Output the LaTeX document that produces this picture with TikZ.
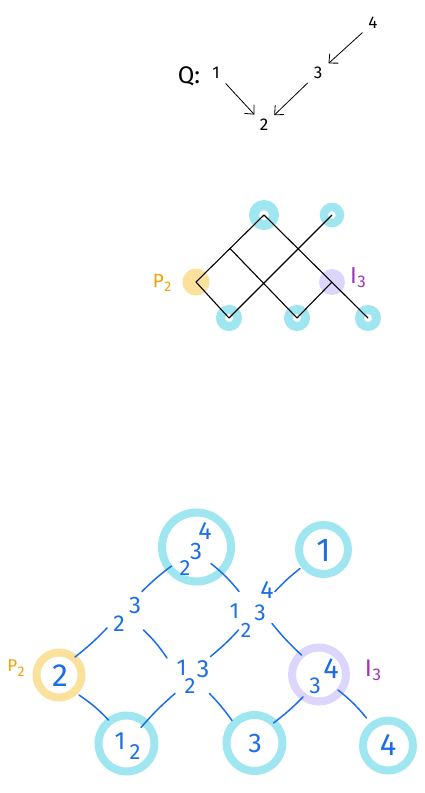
\documentclass[tikz,border=0pt]{standalone}
\usepackage{fontspec}
\setmainfont{Fira Sans}
\usetikzlibrary{arrows.meta}

\definecolor{ringcyan}{RGB}{160,230,240}
\definecolor{ringyellow}{RGB}{250,226,156}
\definecolor{ringlav}{RGB}{221,214,252}
\definecolor{inkblue}{RGB}{28,110,232}
\definecolor{inkorange}{RGB}{245,159,0}
\definecolor{inkpurple}{RGB}{156,54,181}

% letter with a lowered index: #1 letter, #2 index, #3 index size, #4 drop
\newcommand{\idxlabel}[4]{#1\kern0.5pt\raisebox{-#4}{\fontsize{#3}{#3}\selectfont #2}}

\tikzset{
  lbl/.style={inner sep=0pt, font=\fontsize{#1}{#1}\selectfont},
  num/.style={lbl=#1, text=inkblue},
  qnum/.style={circle, inner sep=0pt, minimum size=28pt, font=\fontsize{17}{17}\selectfont},
  qarrow/.style={-{Straight Barb[length=7pt,width=13pt]}, line width=0.8pt},
  ring/.style={circle, draw=#1, inner sep=0pt},
  blob/.style={circle, fill=#1, inner sep=0pt},
  latt/.style={line width=1.1pt, black},
  link/.style={draw=inkblue, line width=1.5pt, line cap=round},
}

\begin{document}
\begin{tikzpicture}[x=1pt,y=-1pt]
\useasboundingbox (0,0) rectangle (425,793);

% ---------- ordering Q ----------
\node[lbl=24] (qq) at (189,76) {Q:};
\node[qnum] (q1) at (216,73) {1};
\node[qnum] (q2) at (264,125) {2};
\node[qnum] (q3) at (318,73) {3};
\node[qnum] (q4) at (373,23) {4};
\draw[qarrow] (q1) -- (q2);
\draw[qarrow] (q3) -- (q2);
\draw[qarrow] (q4) -- (q3);

% ---------- small lattice ----------
\node[ring=ringcyan, line width=10pt, minimum size=20pt] (mA) at (264,215) {};
\node[ring=ringcyan, line width=8.5pt, minimum size=16pt] (mB) at (332,215) {};
\node[blob=ringyellow, minimum size=27pt] (mP) at (196,282) {};
\node[blob=ringlav, minimum size=26pt] (mI) at (332,282) {};
\node[ring=ringcyan, line width=9pt, minimum size=17pt] (mC1) at (229,318) {};
\node[ring=ringcyan, line width=9pt, minimum size=17pt] (mC2) at (297,318) {};
\node[ring=ringcyan, line width=9pt, minimum size=17pt] (mD) at (368,318) {};
\coordinate (mJ) at (230,248.5);

\draw[latt] (mP.center) -- (mA.center);
\draw[latt] (mP.center) -- (mC1.center);
\draw[latt] (mA.center) -- (mD.center);
\draw[latt] (mB.center) -- (mC1.center);
\draw[latt] (mJ) -- (mC2.center);
\draw[latt] (mC2.center) -- (mI.center);

\node[lbl=19, text=inkorange] (mPl) at (162,283) {\idxlabel{P}{2}{14}{4pt}};
\node[lbl=23, text=inkpurple] (mIl) at (358,278) {\idxlabel{I}{3}{17}{4pt}};

% ---------- large lattice ----------
\node[ring=ringcyan, line width=8pt, minimum size=69pt] (bA) at (196.5,547) {};
\node[ring=ringcyan, line width=8pt, minimum size=49pt] (bB) at (323.5,549.5) {};
\node[ring=ringyellow, line width=8pt, minimum size=45pt] (bP) at (59,675) {};
\node[ring=ringlav, line width=8pt, minimum size=54pt] (bI) at (319,674.5) {};
\node[ring=ringcyan, line width=8pt, minimum size=56pt] (bC1) at (126.5,743.5) {};
\node[ring=ringcyan, line width=8pt, minimum size=56pt] (bC2) at (254.5,743) {};
\node[ring=ringcyan, line width=8pt, minimum size=50pt] (bD) at (388,745.5) {};

% digits inside and between the circles
\node[num=22] (a2) at (185,568) {2};
\node[num=24] (a3) at (196,551) {3};
\node[num=25] (a4) at (205,531) {4};
\node[num=33] (b1) at (323.5,550) {1};
\node[num=32] (p2) at (60,676) {2};
\node[num=23] (i3) at (315,686) {3};
\node[num=29] (i4) at (331,669) {4};
\node[num=25] (c11) at (120,741) {1};
\node[num=22] (c12) at (135,752) {2};
\node[num=27] (c23) at (255,743) {3};
\node[num=31] (d4) at (388,745) {4};

\node[num=23] (l2) at (119,624) {2};
\node[num=24] (l3) at (135,605) {3};

\node[num=23] (m1) at (181.5,668) {1};
\node[num=22] (m2) at (190,686) {2};
\node[num=25] (m3) at (203,669.5) {3};

\node[num=22] (r1) at (234.5,611) {1};
\node[num=21] (r2) at (246,630) {2};
\node[num=23] (r3) at (260,613) {3};
\node[num=25] (r4) at (267,590) {4};

\node[lbl=17, text=inkorange] (bPl) at (16,668) {\idxlabel{P}{2}{14}{5pt}};
\node[lbl=24, text=inkpurple] (bIl) at (373,670) {\idxlabel{I}{3}{17}{4pt}};

% connector end points
\coordinate (eAl) at (171.5,566);   \coordinate (eLa) at (142,591.5);
\coordinate (eLp) at (107,628);     \coordinate (ePl) at (75,657);
\coordinate (eLm) at (143.5,630);   \coordinate (eMl) at (167,658);
\coordinate (eAr) at (211,563.5);   \coordinate (eRa) at (239,591.5);
\coordinate (eBr) at (300,568.5);   \coordinate (eRb) at (275,591.5);
\coordinate (eMr) at (210.5,656.5); \coordinate (eRm) at (238.5,630);
\coordinate (eRi) at (272,623.5);   \coordinate (eIr) at (301.5,655);
\coordinate (ePc) at (79,695);      \coordinate (eCp) at (108.5,720);
\coordinate (eMc) at (175,693.5);   \coordinate (eCm) at (141,727.5);
\coordinate (eMd) at (209.5,693.5); \coordinate (eDm) at (232,720.5);
\coordinate (eIc) at (303,697);     \coordinate (eCi) at (273.5,723);
\coordinate (eId) at (338,690);     \coordinate (eDi) at (366.5,718);

\draw[link] (eAl) to[bend right=4] (eLa);
\draw[link] (eLp) to[bend left=4] (ePl);
\draw[link] (eLm) to[bend left=6] (eMl);
\draw[link] (eAr) to[bend left=6] (eRa);
\draw[link] (eBr) to[bend right=4] (eRb);
\draw[link] (eMr) to[bend right=4] (eRm);
\draw[link] (eRi) to[bend right=4] (eIr);
\draw[link] (ePc) to[bend left=6] (eCp);
\draw[link] (eMc) to[bend right=4] (eCm);
\draw[link] (eMd) to[bend left=4] (eDm);
\draw[link] (eIc) to[bend left=4] (eCi);
\draw[link] (eId) to[bend left=6] (eDi);
\end{tikzpicture}
\end{document}
